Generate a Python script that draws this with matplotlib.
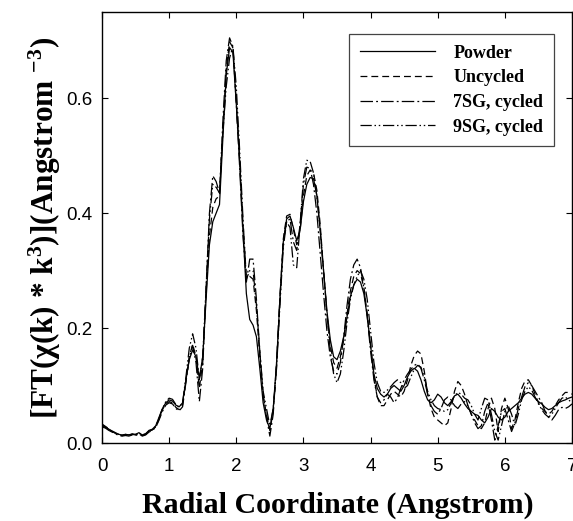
import numpy as np
import matplotlib
matplotlib.use("Agg")
import matplotlib.pyplot as plt

plt.rcParams['mathtext.fontset'] = 'custom'
plt.rcParams['mathtext.rm'] = 'Liberation Serif:bold'
plt.rcParams['mathtext.it'] = 'Liberation Serif:bold'
plt.rcParams['mathtext.bf'] = 'Liberation Serif:bold'

# Radial coordinate grid (Angstrom)
r = np.round(np.arange(0, 7.0001, 0.05), 2)

powder = [
    0.030, 0.027, 0.024, 0.021, 0.018, 0.015, 0.014, 0.015, 0.014, 0.016,
    0.015, 0.018, 0.014, 0.016, 0.022, 0.024, 0.030, 0.045, 0.060, 0.070,
    0.075, 0.073, 0.066, 0.063, 0.070, 0.110, 0.145, 0.162, 0.150, 0.112,
    0.150, 0.250, 0.345, 0.385, 0.400, 0.415, 0.530, 0.640, 0.688, 0.680,
    0.590, 0.490, 0.370, 0.260, 0.215, 0.205, 0.185, 0.130, 0.070, 0.040,
    0.025, 0.060, 0.140, 0.250, 0.350, 0.390, 0.395, 0.375, 0.352, 0.370,
    0.420, 0.450, 0.462, 0.460, 0.430, 0.370, 0.300, 0.230, 0.180, 0.150,
    0.145, 0.160, 0.185, 0.220, 0.255, 0.275, 0.285, 0.280, 0.260, 0.220,
    0.170, 0.120, 0.095, 0.085, 0.080, 0.085, 0.095, 0.100, 0.095, 0.090,
    0.100, 0.115, 0.125, 0.130, 0.125, 0.110, 0.090, 0.075, 0.070, 0.075,
    0.085, 0.080, 0.070, 0.065, 0.072, 0.082, 0.085, 0.078, 0.068, 0.060,
    0.055, 0.050, 0.048, 0.040, 0.035, 0.045, 0.060, 0.055, 0.045, 0.040,
    0.045, 0.055, 0.060, 0.065, 0.070, 0.078, 0.085, 0.088, 0.085, 0.078,
    0.072, 0.068, 0.062, 0.058, 0.060, 0.065, 0.070, 0.073, 0.075, 0.078,
    0.080]

uncycled = [
    0.033, 0.029, 0.025, 0.020, 0.017, 0.014, 0.013, 0.014, 0.013, 0.015,
    0.014, 0.017, 0.013, 0.015, 0.020, 0.023, 0.028, 0.042, 0.058, 0.068,
    0.072, 0.070, 0.062, 0.058, 0.066, 0.108, 0.150, 0.172, 0.150, 0.095,
    0.140, 0.260, 0.360, 0.410, 0.425, 0.430, 0.545, 0.650, 0.698, 0.688,
    0.595, 0.495, 0.380, 0.290, 0.290, 0.285, 0.230, 0.150, 0.080, 0.050,
    0.022, 0.055, 0.135, 0.250, 0.355, 0.395, 0.398, 0.372, 0.345, 0.370,
    0.430, 0.465, 0.475, 0.470, 0.440, 0.380, 0.300, 0.225, 0.170, 0.140,
    0.130, 0.150, 0.180, 0.225, 0.265, 0.290, 0.300, 0.295, 0.270, 0.225,
    0.170, 0.115, 0.080, 0.065, 0.065, 0.075, 0.085, 0.090, 0.085, 0.080,
    0.090, 0.110, 0.135, 0.152, 0.160, 0.155, 0.125, 0.085, 0.060, 0.045,
    0.040, 0.035, 0.030, 0.035, 0.060, 0.090, 0.107, 0.100, 0.085, 0.065,
    0.050, 0.040, 0.030, 0.025, 0.035, 0.060, 0.078, 0.060, 0.020, 0.060,
    0.078, 0.060, 0.025, 0.040, 0.070, 0.095, 0.108, 0.110, 0.100, 0.085,
    0.070, 0.060, 0.055, 0.050, 0.055, 0.065, 0.075, 0.082, 0.088, 0.088,
    0.085]

sg7_cycled = [
    0.028, 0.026, 0.022, 0.019, 0.016, 0.013, 0.012, 0.013, 0.012, 0.014,
    0.013, 0.016, 0.012, 0.014, 0.019, 0.022, 0.027, 0.040, 0.055, 0.066,
    0.070, 0.068, 0.060, 0.056, 0.063, 0.105, 0.148, 0.170, 0.140, 0.072,
    0.130, 0.270, 0.400, 0.465, 0.455, 0.435, 0.560, 0.665, 0.705, 0.690,
    0.590, 0.480, 0.360, 0.280, 0.320, 0.320, 0.250, 0.160, 0.085, 0.045,
    0.012, 0.050, 0.140, 0.255, 0.350, 0.385, 0.390, 0.350, 0.335, 0.380,
    0.450, 0.480, 0.478, 0.450, 0.400, 0.330, 0.260, 0.195, 0.150, 0.125,
    0.120, 0.140, 0.185, 0.240, 0.285, 0.310, 0.320, 0.305, 0.270, 0.220,
    0.160, 0.110, 0.080, 0.070, 0.075, 0.085, 0.080, 0.070, 0.078, 0.095,
    0.110, 0.120, 0.128, 0.135, 0.138, 0.130, 0.110, 0.085, 0.065, 0.055,
    0.050, 0.060, 0.075, 0.080, 0.075, 0.065, 0.060, 0.068, 0.072, 0.065,
    0.050, 0.035, 0.025, 0.030, 0.055, 0.070, 0.040, 0.005, 0.030, 0.055,
    0.060, 0.040, 0.020, 0.035, 0.060, 0.080, 0.098, 0.105, 0.100, 0.090,
    0.080, 0.070, 0.055, 0.045, 0.040, 0.048, 0.058, 0.062, 0.060, 0.063,
    0.068]

sg9_cycled = [
    0.032, 0.028, 0.024, 0.020, 0.017, 0.015, 0.013, 0.015, 0.014, 0.015,
    0.015, 0.017, 0.014, 0.016, 0.021, 0.023, 0.029, 0.043, 0.060, 0.072,
    0.078, 0.076, 0.067, 0.062, 0.070, 0.115, 0.165, 0.190, 0.165, 0.110,
    0.150, 0.270, 0.390, 0.450, 0.445, 0.435, 0.540, 0.620, 0.670, 0.690,
    0.620, 0.510, 0.390, 0.285, 0.300, 0.300, 0.240, 0.160, 0.090, 0.060,
    0.030, 0.060, 0.130, 0.240, 0.340, 0.385, 0.375, 0.310, 0.305, 0.380,
    0.460, 0.492, 0.490, 0.470, 0.430, 0.370, 0.300, 0.225, 0.160, 0.120,
    0.105, 0.120, 0.160, 0.210, 0.250, 0.275, 0.290, 0.300, 0.285, 0.250,
    0.195, 0.140, 0.105, 0.090, 0.088, 0.092, 0.098, 0.105, 0.110, 0.105,
    0.095, 0.100, 0.115, 0.128, 0.135, 0.132, 0.115, 0.090, 0.075, 0.065,
    0.060, 0.058, 0.055, 0.058, 0.070, 0.082, 0.088, 0.085, 0.078, 0.075,
    0.065, 0.050, 0.040, 0.060, 0.078, 0.075, 0.050, 0.020, 0.005, 0.030,
    0.055, 0.065, 0.050, 0.030, 0.050, 0.075, 0.090, 0.098, 0.092, 0.080,
    0.068, 0.058, 0.050, 0.045, 0.050, 0.060, 0.070, 0.078, 0.080, 0.075,
    0.070]

labels = ["Powder", "Uncycled", "7SG, cycled", "9SG, cycled"]
series = [powder, uncycled, sg7_cycled, sg9_cycled]
styles = ['-', (0, (5.5, 3.2)), (0, (10, 2.5, 1.5, 2.5)), (0, (9, 2.2, 1.2, 2.2, 1.2, 2.2))]

W, H = 573, 521
fig = plt.figure(figsize=(W / 100, H / 100), dpi=100)
ax = fig.add_axes([102 / W, (H - 443) / H, 470 / W, 431 / H])

for y, lab, ls in zip(series, labels, styles):
    ax.plot(r, y, color='black', lw=0.9, linestyle=ls, label=lab)

ax.set_xlim(0, 7)
ax.set_ylim(0, 0.75)
ax.set_xticks(range(0, 8))
ax.set_yticks([0.0, 0.2, 0.4, 0.6])
ax.set_yticklabels(['0.0', '0.2', '0.4', '0.6'])
ax.tick_params(direction='in', length=4, width=0.8, top=True, right=True,
               labelsize=13.5)
ax.tick_params(axis='x', pad=11)
ax.tick_params(axis='y', pad=7)
for lbl in ax.get_xticklabels() + ax.get_yticklabels():
    lbl.set_fontfamily('Liberation Sans')
for s in ax.spines.values():
    s.set_linewidth(1.0)

leg = ax.legend(loc='upper right', bbox_to_anchor=(0.962, 0.949), borderaxespad=0,
                prop={'family': 'Liberation Serif', 'weight': 'bold', 'size': 13},
                handlelength=4.2, handletextpad=1.0, labelspacing=0.42,
                borderpad=0.6, fancybox=False, framealpha=1, edgecolor='#444444')
leg.get_frame().set_linewidth(0.9)

fig.text(338 / W, 1 - 505 / H, 'Radial Coordinate (Angstrom)',
         ha='center', va='center', fontsize=21.5, fontfamily='Liberation Serif',
         fontweight='bold')
fig.text(45 / W, 1 - 228 / H,
         r'[FT($\mathrm{\chi}$(k) * k$^{3}$)](Angstrom $^{-3}$)',
         ha='center', va='center', rotation=90, fontsize=22.5,
         fontfamily='Liberation Serif', fontweight='bold')

fig.savefig('out.png', dpi=100)
